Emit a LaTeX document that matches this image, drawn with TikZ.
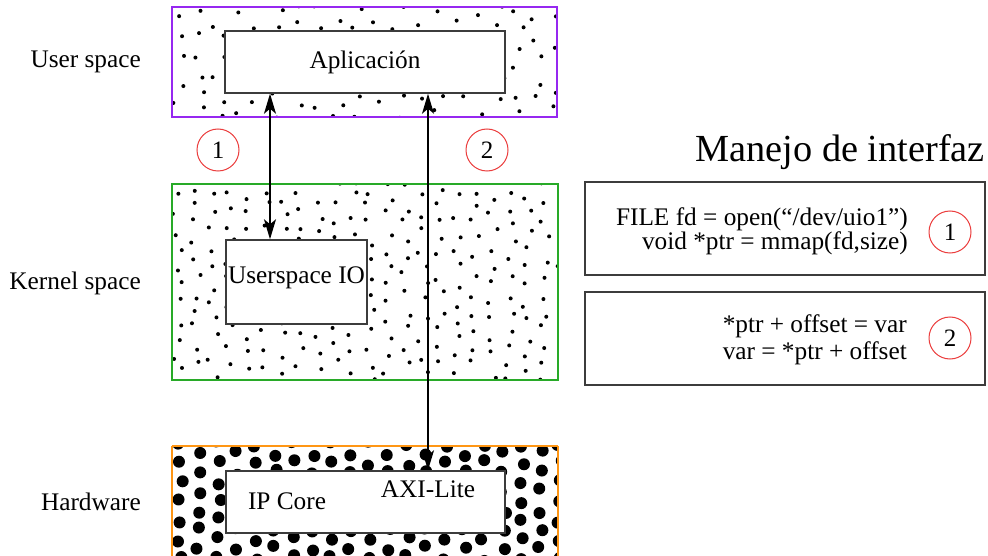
\documentclass[tikz,border=0pt]{standalone}
\usepackage{fontspec}
\setmainfont{Liberation Serif}
\usetikzlibrary{arrows.meta}
\definecolor{purp}{RGB}{150,40,240}
\definecolor{grn}{RGB}{40,170,40}
\definecolor{orng}{RGB}{255,150,20}
\definecolor{circred}{RGB}{235,60,60}
\definecolor{boxgray}{RGB}{60,60,60}
\tikzset{
  inbox/.style={draw=boxgray, fill=white, line width=1.5pt, inner sep=3pt},
  codebox/.style={draw=boxgray, line width=2pt},
  numcirc/.style={circle, draw=circred, line width=1pt, minimum size=42pt, inner sep=0pt, font=\fontsize{25}{27}\selectfont},
  lbl/.style={font=\fontsize{25.3}{27}\selectfont, inner sep=0pt},
  dbl/.style={{Stealth[length=20pt,width=12pt,inset=5pt]}-{Stealth[length=20pt,width=12pt,inset=5pt]}, line width=1.3pt}
}
\newcommand{\scatterdots}[7]{% x0 y0 ncols nrows spacing radius jitter
  \foreach \i in {0,...,#3}{
    \foreach \j in {0,...,#4}{
      \pgfmathsetmacro{\px}{#1+\i*#5+(rnd-0.5)*2*#7}
      \pgfmathsetmacro{\py}{#2+\j*#5+(rnd-0.5)*2*#7+mod(\i,2)*#5/2}
      \fill (\px,\py) circle[radius=#6];
    }
  }
}
\begin{document}
\begin{tikzpicture}[x=1pt,y=-1pt]
\useasboundingbox (0,0) rectangle (988,556);
\fill[white] (0,0) rectangle (988,556);
\pgfmathsetseed{12345}
% ---------- dots ----------
\begin{scope}
  \clip (172,7) rectangle (557,117);
  \scatterdots{178}{2}{19}{6}{20}{2pt}{6.5}
\end{scope}
\begin{scope}
  \clip (172,184) rectangle (558,380);
  \scatterdots{178}{180}{22}{12}{17.5}{2pt}{5.5}
\end{scope}
\begin{scope}
  \clip (172,446) rectangle (558,570);
  \scatterdots{180}{444}{20}{7}{19}{6pt}{3}
\end{scope}
% ---------- zones ----------
\draw[purp, line width=2pt] (172,7) rectangle (557,117);
\node[inner sep=0pt, minimum width=385pt, minimum height=110pt] (user) at (364.5,62) {};
\draw[grn, line width=2pt] (172,184) rectangle (558,380);
\node[inner sep=0pt, minimum width=386pt, minimum height=196pt] (kernel) at (365,282) {};
\draw[orng, line width=2pt] (172,446) -- (172,570) (558,446) -- (558,570) (172,446) -- (558,446);
% ---------- inner boxes ----------
\node[inbox, minimum width=280pt, minimum height=62pt, lbl] (app) at (365,62) {Aplicación};
\node[inbox, minimum width=141pt, minimum height=84pt] (uio) at (296.5,282) {};
\node[lbl] (uiotxt) at (296.5,278) {Userspace IO};
\node[inbox, minimum width=279pt, minimum height=62pt] (ip) at (365.5,502) {};
\node[lbl] (iptxt) at (287,501) {IP Core};
\node[lbl] (axi) at (428,489) {AXI-Lite};
% ---------- side labels ----------
\node[lbl, anchor=east] (lu) at (141,62) {User space};
\node[lbl, anchor=east] (lk) at (141,283) {Kernel space};
\node[lbl, anchor=east] (lh) at (141,502) {Hardware};
% ---------- circles ----------
\node[numcirc] (n1) at (218,150) {1};
\node[numcirc] (n2) at (487,150) {2};
% ---------- arrows ----------
\coordinate (c1) at (270,0);
\coordinate (c2) at (428,0);
\draw[dbl] (c1 |- app.south) -- (c1 |- uio.north);
\draw[dbl] (c2 |- app.south) -- (c2 |- ip.north);
% ---------- right panel ----------
\node[font=\fontsize{38.3}{40}\selectfont, inner sep=0pt, anchor=east] (title) at (985,152) {Manejo de interfaz};
\node[codebox, minimum width=400pt, minimum height=93pt] (cb1) at (785,228.5) {};
\node[codebox, minimum width=400pt, minimum height=93pt] (cb2) at (785,338.5) {};
\node[align=right, anchor=east, inner sep=0pt, font=\fontsize{25.3}{22}\selectfont] (code1) at (908,231) {FILE fd = open(“/dev/uio1”)\\void *ptr = mmap(fd,size)};
\node[align=right, anchor=east, inner sep=0pt, font=\fontsize{25.3}{27}\selectfont] (code2) at (907,339.5) {*ptr + offset = var\\var = *ptr + offset};
\node[numcirc] (m1) at (950,232) {1};
\node[numcirc] (m2) at (950,338) {2};
\end{tikzpicture}
\end{document}
